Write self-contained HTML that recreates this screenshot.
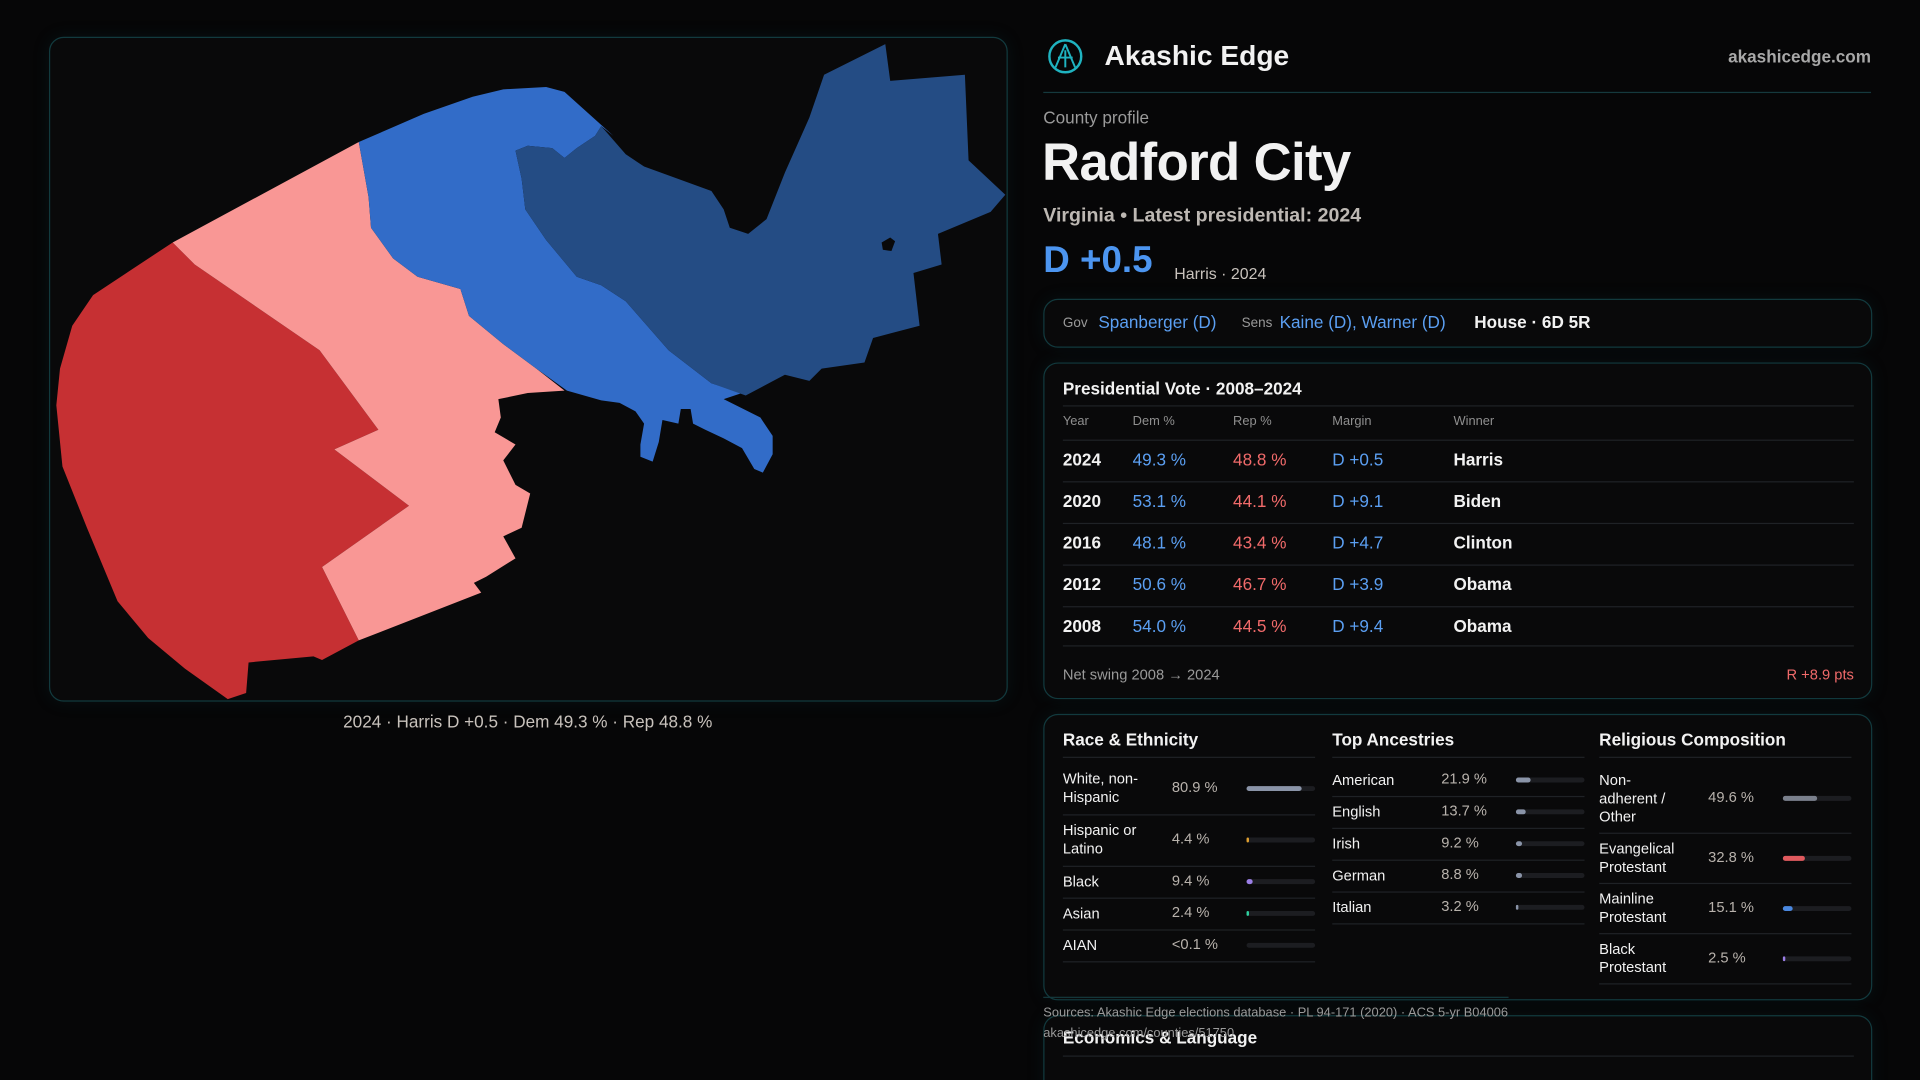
<!DOCTYPE html>
<html><head><meta charset="utf-8">
<style>
html,body{margin:0;padding:0;background:#060607;width:1920px;height:1080px;overflow:hidden;font-family:"Liberation Sans",sans-serif;}
#root{position:absolute;left:0;top:0;width:1568px;height:882px;overflow:hidden;transform:scale(1.22449);transform-origin:0 0;}
.abs{position:absolute;white-space:nowrap;}
.card{position:absolute;border:1px solid #123a3e;border-radius:12px;background:#09090a;box-shadow:0 0 14px rgba(20,80,90,0.15);}
.g{color:#9a9a9a}.b{color:#5b9ff2}.r{color:#f06a6a}.w{color:#f2f2f2}
.hl{position:absolute;height:1px;background:#1f2226;}
</style></head><body>
<div id="root">
  <div class="card" style="left:40px;top:30px;width:781px;height:541px;">
    <svg width="781" height="541" viewBox="40 30 781 541" style="position:absolute;left:0;top:0">
      <polygon fill="#c63033" points="140,197 75,240 58,265 48,300 45,330 50,380 70,430 95,490 120,520 150,545 185,570 200,565 202,540 255,535 262,538 292,522 262,462 333,412 272,366 308,350 260,285 158,215"/>
      <polygon fill="#f99795" points="140,197 292,115 300,160 302,185 320,210 340,225 375,235 382,257 410,280 437,300 460,318 430,320 406,325 408,340 403,352 420,362 410,375 420,395 432,402 425,430 410,437 420,455 396,470 386,475 392,483 292,522 262,462 333,412 272,366 308,350 260,285 158,215"/>
      <polygon fill="#326cc8" points="292,115 345,92 385,78 410,72 445,70 460,74 500,110 490,102 485,110 470,120 460,128 450,120 430,118 420,122 425,145 428,170 445,195 470,225 490,232 510,245 545,285 580,312 605,320 590,325 620,340 630,355 630,370 622,385 615,382 605,365 590,357 575,350 565,345 563,333 555,333 553,345 540,342 537,360 532,376 522,372 522,362 525,345 518,335 505,328 490,326 462,318 437,300 410,280 382,257 375,235 340,225 320,210 302,185 300,160"/>
      <polygon fill="#244c84" points="420,122 430,118 450,120 460,128 470,120 485,110 490,102 510,125 525,135 580,155 590,170 595,185 610,190 625,178 640,140 660,95 672,60 722,35 726,65 787,60 790,130 820,158 808,172 765,190 768,215 745,222 750,265 712,275 705,295 670,300 660,310 640,305 608,322 580,312 545,285 510,245 490,232 470,225 445,195 428,170 425,145"/>
      <polygon fill="#09090a" points="719,197 726,193 730,196 727,204 720,203"/>
    </svg>
  </div>
  <div class="abs" style="left:40px;width:782px;top:581px;text-align:center;font-size:14px;color:#c8c2bc;">2024 · Harris D +0.5 · Dem 49.3 % · Rep 48.8 %</div>

  <svg class="abs" style="left:855px;top:31px" width="30" height="30">
    <circle cx="15" cy="15" r="13" fill="none" stroke="#1fb3c0" stroke-width="2"/>
    <path d="M15 5 L7 24 M15 5 L23 24 M9 16 L21 16 M15 10 L15 24" stroke="#1fb3c0" stroke-width="1.6" fill="none"/>
  </svg>
  <div class="abs w" style="left:902px;top:32px;font-size:23px;font-weight:bold;">Akashic Edge</div>
  <div class="abs" style="right:40px;top:38px;font-size:14px;font-weight:bold;color:#a8a8a8;">akashicedge.com</div>
  <div class="hl" style="left:852px;top:75px;width:676px;background:#15393d;"></div>
  <div class="abs g" style="left:852px;top:88px;font-size:14px;">County profile</div>
  <div class="abs w" style="left:851px;top:109px;font-size:43px;font-weight:bold;letter-spacing:-0.5px;">Radford City</div>
  <div class="abs" style="left:852px;top:168px;font-size:16px;font-weight:bold;color:#bdb8b3;">Virginia • Latest presidential: 2024</div>
  <div class="abs b" style="left:852px;top:196px;font-size:30px;font-weight:bold;color:#4c95f0;">D +0.5</div>
  <div class="abs" style="left:959px;top:216px;font-size:13px;color:#c8c2bc;">Harris · 2024</div>

  <div class="card" style="left:852px;top:244px;width:675px;height:38px;">
    <span class="abs g" style="left:15px;top:13px;font-size:11px;">Gov</span>
    <span class="abs b" style="left:44px;top:10px;font-size:14px;">Spanberger (D)</span>
    <span class="abs g" style="left:161px;top:13px;font-size:11px;">Sens</span>
    <span class="abs b" style="left:192px;top:10px;font-size:14px;">Kaine (D), Warner (D)</span>
    <span class="abs w" style="left:351px;top:10px;font-size:14px;font-weight:bold;">House · 6D 5R</span>
  </div>

  <div class="card" style="left:852px;top:296px;width:675px;height:273px;">
    <div class="abs w" style="left:15px;top:12px;font-size:14px;font-weight:bold;">Presidential Vote · 2008–2024</div>
    <div class="hl" style="left:15px;top:34px;width:646px;"></div>
    <div id="ptable"></div>
    <div class="abs g" style="left:15px;top:247px;font-size:12px;">Net swing 2008 → 2024</div>
    <div class="abs r" style="right:14px;top:247px;font-size:12px;">R +8.9 pts</div>
  </div>

  <div class="card" style="left:852px;top:583px;width:675px;height:232px;">
    <div id="demo"></div>
  </div>
  <div class="hl" style="left:852px;top:814px;width:380px;background:#15393d;"></div>
  <div class="card" style="left:852px;top:829px;width:675px;height:70px;">
    <div class="hl" style="left:15px;top:32px;width:646px;"></div>
  </div>
  <div class="abs w" style="left:868px;top:839px;font-size:14px;font-weight:bold;">Economics &amp; Language</div>
  <div class="abs g" style="left:852px;top:821px;font-size:10.5px;">Sources: Akashic Edge elections database · PL 94-171 (2020) · ACS 5-yr B04006</div>
  <div class="abs g" style="left:852px;top:838px;font-size:10.5px;">akashicedge.com/counties/51750</div>
</div>
<script>
const years=["2024","2020","2016","2012","2008"];
const demPct=[49.3,53.1,48.1,50.6,54.0];
const repPct=[48.8,44.1,43.4,46.7,44.5];
const margins=["D +0.5","D +9.1","D +4.7","D +3.9","D +9.4"];
const winners=["Harris","Biden","Clinton","Obama","Obama"];
const raceLabels=["White, non-<br>Hispanic","Hispanic or<br>Latino","Black","Asian","AIAN"];
const raceVals=[80.9,4.4,9.4,2.4,0.05];
const raceText=["80.9 %","4.4 %","9.4 %","2.4 %","<0.1 %"];
const ancLabels=["American","English","Irish","German","Italian"];
const ancVals=[21.9,13.7,9.2,8.8,3.2];
const relLabels=["Non-<br>adherent /<br>Other","Evangelical<br>Protestant","Mainline<br>Protestant","Black<br>Protestant"];
const relVals=[49.6,32.8,15.1,2.5];

function mk(parent,html,style){const d=document.createElement('div');d.className='abs';d.innerHTML=html;d.style.cssText=style;parent.appendChild(d);return d;}
const pt=document.getElementById('ptable');
const hdr=[["Year",15],["Dem %",72],["Rep %",154],["Margin",235],["Winner",334]];
hdr.forEach(h=>{const e=mk(pt,h[0],`left:${h[1]}px;top:41px;font-size:10.5px;color:#8f8f8f;`);

});
years.forEach((y,i)=>{
  const top=70+i*34;
  const l=mk(pt,'',`left:15px;top:${top-8}px;width:646px;height:1px;background:#1f2226;`);
  
  
  const isD=margins[i][0]==='D';
  const cells=[[y,15,'#f2f2f2','bold'],[demPct[i].toFixed(1)+' %',72,'#5b9ff2','normal'],[repPct[i].toFixed(1)+' %',154,'#f06a6a','normal'],[margins[i],235,isD?'#5b9ff2':'#f06a6a','normal'],[winners[i],334,'#f2f2f2','bold']];
  cells.forEach(c=>{const e=mk(pt,c[0],`left:${c[1]}px;top:${top}px;font-size:14px;color:${c[2]};font-weight:${c[3]};`);
  
  });
});
mk(pt,'','left:15px;top:230px;width:646px;height:1px;background:#1f2226;');
const demo=document.getElementById('demo');
function column(x,title,labels,vals,texts,colors,rowH,startY){
  const t=mk(demo,title,`left:${x}px;top:12px;font-size:14px;font-weight:bold;color:#f2f2f2;`);
  
  
  mk(demo,'',`left:${x}px;top:34px;width:206px;height:1px;background:#1f2226;`);
  let y=startY;
  labels.forEach((lb,i)=>{
    const h=rowH[i];
    const cy=y+h/2;
    const a=mk(demo,lb,`left:${x}px;top:${cy-(lb.split('<br>').length*15)/2}px;font-size:12px;line-height:15px;color:#f2f2f2;`);
    
    
    const v=mk(demo,texts[i],`left:${x+89}px;top:${cy-8}px;font-size:12px;color:#b8b2ac;`);
    
    
    const b=mk(demo,'',`left:${x+150}px;top:${cy-2}px;width:56px;height:4px;border-radius:2px;background:#1c1d21;`);
    
    
    const f=document.createElement('i');
    f.style.cssText=`position:absolute;left:0;top:0;height:4px;border-radius:2px;width:${Math.max(vals[i]>0.1?1.5:0,56*vals[i]/100)}px;background:${colors[i]};`;
    b.appendChild(f);
    y+=h;
    mk(demo,'',`left:${x}px;top:${y}px;width:206px;height:1px;background:#1f2226;`);
  });
}
column(15,"Race &amp; Ethnicity",raceLabels,raceVals,raceText,["#8a94a8","#e0a030","#9b7fe6","#2fd0a0","#555"],[42,42,26,26,26],39);
column(235,"Top Ancestries",ancLabels,ancVals,ancVals.map(v=>v.toFixed(1)+' %'),["#8a94a8","#8a94a8","#8a94a8","#8a94a8","#8a94a8"],[26,26,26,26,26],40);
column(453,"Religious Composition",relLabels,relVals,relVals.map(v=>v.toFixed(1)+' %'),["#7a808c","#e05a5e","#4a88e0","#9b7fe6"],[56,41,41,41],40);
</script>
</body></html>
